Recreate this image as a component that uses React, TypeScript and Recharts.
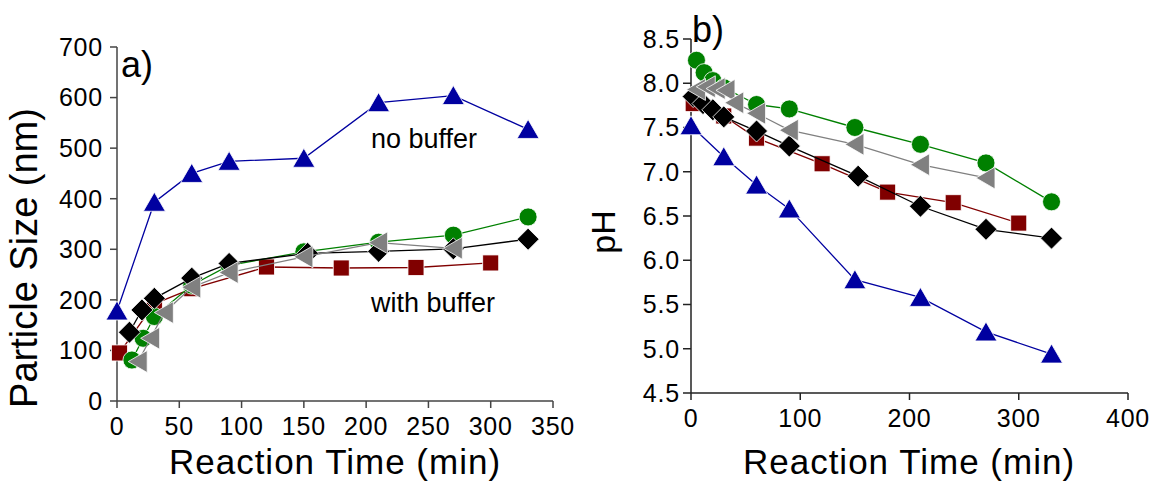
import React from "react";
import { ScatterChart, Scatter, XAxis, YAxis } from "recharts";

// panel a) particle size (nm) vs reaction time (min)
const aBlueT = [0, 30, 60, 90, 150, 210, 270, 330];
const aBlueV = [178, 393, 450, 474, 480, 590, 604, 537];
const aRedT = [2, 30, 60, 120, 180, 240, 300];
const aRedV = [95, 192, 222, 265, 263, 264, 273];
const aGreenT = [12, 21, 30, 60, 90, 150, 210, 270, 330];
const aGreenV = [81, 124, 167, 229, 268, 295, 314, 328, 364];
const aBlackT = [10, 20, 30, 60, 90, 153, 210, 270, 330];
const aBlackV = [136, 180, 203, 243, 272, 292, 296, 301, 320];
const aGrayT = [17, 27, 38, 60, 90, 150, 210, 270];
const aGrayV = [78, 124, 175, 225, 254, 285, 313, 302];

// panel b) pH vs reaction time (min)
const bBlueT = [0, 30, 60, 90, 150, 210, 270, 330];
const bBlueV = [7.52, 7.17, 6.85, 6.58, 5.78, 5.58, 5.19, 4.94];
const bRedT = [2, 30, 60, 120, 180, 240, 300];
const bRedV = [7.77, 7.63, 7.38, 7.09, 6.77, 6.65, 6.42];
const bGreenT = [5, 12, 20, 30, 60, 90, 150, 210, 270, 330];
const bGreenV = [8.26, 8.12, 8.03, 7.95, 7.76, 7.71, 7.5, 7.31, 7.1, 6.66];
const bBlackT = [2, 11, 20, 30, 60, 90, 153, 210, 270, 330];
const bBlackV = [7.85, 7.77, 7.7, 7.62, 7.46, 7.29, 6.95, 6.61, 6.35, 6.25];
const bGrayT = [5, 14, 23, 32, 40, 60, 90, 150, 210, 270];
const bGrayV = [7.93, 7.96, 7.94, 7.92, 7.78, 7.66, 7.47, 7.31, 7.08, 6.93];

const aXTicks = [0, 50, 100, 150, 200, 250, 300, 350];
const aYTicks = [0, 100, 200, 300, 400, 500, 600, 700];
const bXTicks = [0, 100, 200, 300, 400];
const bYTicks = [4.5, 5.0, 5.5, 6.0, 6.5, 7.0, 7.5, 8.0, 8.5];

const BLUE = "#0000a0";
const RED = "#800000";
const GREEN = "#008000";
const BLACK = "#000000";
const GRAY = "#808080";

const FONT = "'Liberation Sans', Arial, sans-serif";

const zip = (t: number[], v: number[]) => t.map((x, i) => ({ x, y: v[i] }));

// marker shapes, drawn around cx/cy
const triUp = (color: string) => (p: any) => (
  <path
    d={`M${p.cx},${p.cy - 10}L${p.cx + 11},${p.cy + 9}L${p.cx - 11},${p.cy + 9}Z`}
    fill={color}
    stroke="#fff"
    strokeWidth={0.8}
  />
);
const triLeft = (color: string) => (p: any) => (
  <path
    d={`M${p.cx - 10},${p.cy}L${p.cx + 9},${p.cy - 11}L${p.cx + 9},${p.cy + 11}Z`}
    fill={color}
    stroke="#fff"
    strokeWidth={0.8}
  />
);
const square = (color: string) => (p: any) => (
  <rect x={p.cx - 8} y={p.cy - 8} width={16} height={16} fill={color} stroke="#fff" strokeWidth={0.8} />
);
const circle = (color: string) => (p: any) => (
  <circle cx={p.cx} cy={p.cy} r={9} fill={color} stroke="#fff" strokeWidth={0.8} />
);
const diamond = (color: string) => (p: any) => (
  <path
    d={`M${p.cx},${p.cy - 11}L${p.cx + 11},${p.cy}L${p.cx},${p.cy + 11}L${p.cx - 11},${p.cy}Z`}
    fill={color}
    stroke="#fff"
    strokeWidth={0.8}
  />
);

const tickStyle = { fontSize: 25, fill: "#000", fontFamily: FONT, letterSpacing: 0.8 };

const series = (
  blue: any[],
  red: any[],
  green: any[],
  black: any[],
  gray: any[]
) => [
  <Scatter key="blue" data={blue} line={{ stroke: BLUE, strokeWidth: 1.3 }} shape={triUp(BLUE)} isAnimationActive={false} />,
  <Scatter key="red" data={red} line={{ stroke: RED, strokeWidth: 1.3 }} shape={square(RED)} isAnimationActive={false} />,
  <Scatter key="green" data={green} line={{ stroke: GREEN, strokeWidth: 1.3 }} shape={circle(GREEN)} isAnimationActive={false} />,
  <Scatter key="black" data={black} line={{ stroke: BLACK, strokeWidth: 1.3 }} shape={diamond(BLACK)} isAnimationActive={false} />,
  <Scatter key="gray" data={gray} line={{ stroke: GRAY, strokeWidth: 1.3 }} shape={triLeft(GRAY)} isAnimationActive={false} />,
];

export default function App() {
  return (
    <div style={{ position: "absolute", left: 0, top: 0, width: 1155, height: 481, background: "#fff" }}>
      <div style={{ position: "absolute", left: 0, top: 0 }}>
        <ScatterChart width={580} height={481} margin={{ top: 47, right: 27, bottom: 0, left: 0 }}>
          <XAxis
            type="number"
            dataKey="x"
            domain={[0, 350]}
            ticks={aXTicks}
            height={80}
            tickSize={7}
            tickMargin={9}
            tick={tickStyle}
            stroke="#444"
            strokeWidth={1.5}
          />
          <YAxis
            type="number"
            dataKey="y"
            domain={[0, 700]}
            ticks={aYTicks}
            width={117}
            tickSize={7}
            tickMargin={7}
            tick={tickStyle}
            stroke="#444"
            strokeWidth={1.5}
          />
          {series(zip(aBlueT, aBlueV), zip(aRedT, aRedV), zip(aGreenT, aGreenV), zip(aBlackT, aBlackV), zip(aGrayT, aGrayV))}
        </ScatterChart>
      </div>
      <div style={{ position: "absolute", left: 580, top: 0 }}>
        <ScatterChart width={575} height={481} margin={{ top: 39, right: 27, bottom: 0, left: 0 }}>
          <XAxis
            type="number"
            dataKey="x"
            domain={[0, 400]}
            ticks={bXTicks}
            height={88}
            tickSize={7}
            tickMargin={9}
            tick={tickStyle}
            stroke="#222"
            strokeWidth={1.5}
          />
          <YAxis
            type="number"
            dataKey="y"
            domain={[4.5, 8.5]}
            ticks={bYTicks}
            tickFormatter={(v: number) => v.toFixed(1)}
            width={111}
            tickSize={8}
            tickMargin={3}
            tick={tickStyle}
            stroke="#222"
            strokeWidth={1.5}
          />
          {series(zip(bBlueT, bBlueV), zip(bRedT, bRedV), zip(bGreenT, bGreenV), zip(bBlackT, bBlackV), zip(bGrayT, bGrayV))}
        </ScatterChart>
      </div>
      <svg
        width={1155}
        height={481}
        style={{ position: "absolute", left: 0, top: 0, pointerEvents: "none" }}
        fontFamily={FONT}
      >
        <text x={335} y={474} fontSize={35} letterSpacing={1} textAnchor="middle">Reaction Time (min)</text>
        <text x={909} y={474} fontSize={35} letterSpacing={1} textAnchor="middle">Reaction Time (min)</text>
        <text x={37} y={258} fontSize={38} textAnchor="middle" transform="rotate(-90, 37, 258)">
          Particle Size (nm)
        </text>
        <text x={615} y={232} fontSize={34} textAnchor="middle" transform="rotate(-90, 615, 232)">
          pH
        </text>
        <text x={121} y={77} fontSize={36}>a)</text>
        <text x={692} y={42} fontSize={36}>b)</text>
        <text x={371} y={148} fontSize={27}>no buffer</text>
        <text x={371} y={312} fontSize={27}>with buffer</text>
      </svg>
    </div>
  );
}
